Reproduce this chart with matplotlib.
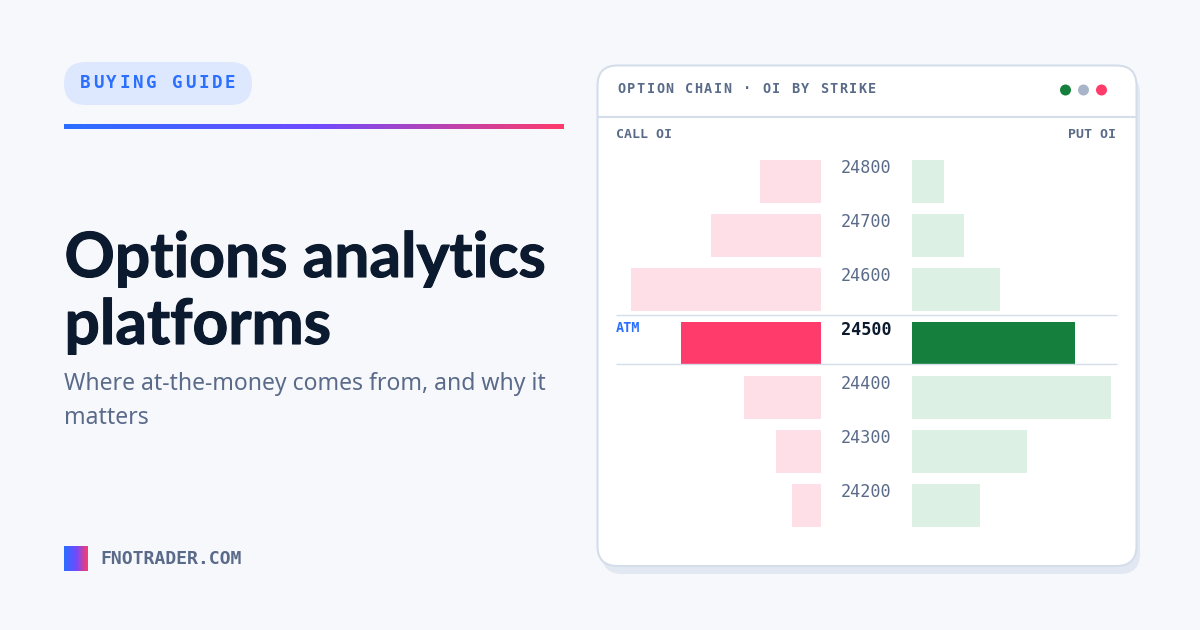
import numpy as np
import matplotlib
matplotlib.use('Agg')
import matplotlib.pyplot as plt
import matplotlib.patheffects as pe
from matplotlib.colors import LinearSegmentedColormap
from matplotlib.lines import Line2D
from matplotlib.patches import FancyBboxPatch, Circle
from matplotlib.text import Text

strikes = [24800, 24700, 24600, 24500, 24400, 24300, 24200]
call_oi = [61, 110, 190, 140, 77, 45, 29]
put_oi = [32, 52, 88, 163, 199, 115, 68]
atm_strike = 24500

badge = 'BUYING GUIDE'
title_lines = ['Options analytics', 'platforms']
subtitle_lines = ['Where at-the-money comes from, and why it', 'matters']
card_title = 'OPTION CHAIN · OI BY STRIKE'
site = 'FNOTRADER.COM'

BG = '#f7f8fc'
BLUE = '#2a6fff'
PINK = '#ff3b6b'
GREEN = '#15803d'
PINK_LIGHT = '#ffdfe7'
GREEN_LIGHT = '#dcf0e4'
INK = '#0b1a2e'
SLATE = '#5a6b8a'
BORDER = '#d4deea'
MONO = 'DejaVu Sans Mono'

W, H = 1200, 630
fig = plt.figure(figsize=(W / 100, H / 100), dpi=100, facecolor=BG)

# whole canvas in pixels, y going down
bg = fig.add_axes([0, 0, 1, 1])
bg.set_xlim(0, W)
bg.set_ylim(H, 0)
bg.axis('off')


def px(size):
    return size * 0.72


class SpacedText(Text):
    # one text object, drawn glyph by glyph at a fixed advance (css letter-spacing)
    advance = 10

    def draw(self, renderer):
        full = self.get_text()
        x0 = self.get_position()[0]
        for i, ch in enumerate(full):
            self.set_text(ch)
            self.set_x(x0 + i * self.advance)
            super().draw(renderer)
        self.set_text(full)
        self.set_x(x0)


def spaced(x, y, s, advance, **kw):
    t = SpacedText(x, y, s, **kw)
    t.advance = advance
    bg.add_artist(t)
    return t


def round_box(x0, y0, x1, y1, r, **kw):
    p = FancyBboxPatch((x0, y0), x1 - x0, y1 - y0,
                       boxstyle='round,pad=0,rounding_size=%s' % r, **kw)
    bg.add_patch(p)
    return p


cmap = LinearSegmentedColormap.from_list('accent', [BLUE, '#6e4bff', PINK])
ramp = np.linspace(0, 1, 256).reshape(1, -1)
bg.imshow(ramp, cmap=cmap, extent=(64, 564, 129, 124), aspect='auto', zorder=2)
bg.imshow(ramp, cmap=cmap, extent=(64, 88, 571, 546), aspect='auto', zorder=2)
bg.set_xlim(0, W)
bg.set_ylim(H, 0)

# badge
round_box(64, 62, 252, 105, 21.5, fc='#dde8ff', ec='none')
spaced(80, 88, badge, 13.15, family=MONO, fontweight='bold', fontsize=px(17.5),
       color=BLUE, va='baseline', zorder=3)

# headline
for i, line in enumerate(title_lines):
    bg.text(64.5, 277 + 67 * i, line, family='Lato', fontweight='bold', fontsize=px(62.3),
            color=INK, va='baseline',
            path_effects=[pe.withStroke(linewidth=0.8, foreground=INK)])
for i, line in enumerate(subtitle_lines):
    bg.text(64, 390 + 34 * i, line, family='Noto Sans', fontsize=px(23),
            color=SLATE, va='baseline')

bg.text(100, 564, site, family=MONO, fontweight='bold', fontsize=px(18.2),
        color=SLATE, va='baseline')

# card
round_box(602, 74, 1140, 574, 20, fc='#e2e8f2', ec='none', zorder=1)
round_box(597.5, 65.5, 1136.5, 566, 20, fc='white', ec=BORDER, lw=1.5, zorder=1.5)
bg.plot([598, 1136], [117, 117], color=BORDER, lw=1.5, zorder=2, solid_capstyle='butt')
spaced(617.5, 93, card_title, 9.63, family=MONO, fontweight='bold', fontsize=px(13.5),
       color=SLATE, va='baseline', zorder=3)
for cx, col in zip([1065.5, 1083.5, 1101.5], [GREEN, '#a8b5c9', PINK]):
    bg.add_patch(Circle((cx, 90), 5.5, fc=col, ec='none', zorder=3))

bg.text(616, 138, 'CALL OI', family=MONO, fontweight='bold', fontsize=px(13.3),
        color=SLATE, va='baseline', zorder=3)
bg.text(1116, 138, 'PUT OI', family=MONO, fontweight='bold', fontsize=px(13.3),
        color=SLATE, va='baseline', ha='right', zorder=3)

# bar panels, 205 px wide each
top, bottom, pitch = 160, 527, 54
ylim = ((bottom - 181.5) / pitch, (top - 181.5) / pitch)
ax_call = fig.add_axes([616 / W, 1 - bottom / H, 205 / W, (bottom - top) / H], zorder=3)
ax_put = fig.add_axes([912 / W, 1 - bottom / H, 205 / W, (bottom - top) / H], zorder=3)
rows = np.arange(len(strikes))
is_atm = [s == atm_strike for s in strikes]
ax_call.barh(rows, call_oi, height=43 / pitch,
             color=[PINK if a else PINK_LIGHT for a in is_atm])
ax_put.barh(rows, put_oi, height=43 / pitch,
            color=[GREEN if a else GREEN_LIGHT for a in is_atm])
ax_call.set_xlim(205, 0)
ax_put.set_xlim(0, 205)
for ax in (ax_call, ax_put):
    ax.set_ylim(*ylim)
    ax.axis('off')
    ax.patch.set_alpha(0)

# strike labels
for i, s in enumerate(strikes):
    atm = s == atm_strike
    bg.text(866.5, 172.8 + pitch * i, str(s), family=MONO, ha='center', va='baseline',
            fontsize=px(16.7), fontweight='bold' if atm else 'normal',
            color=INK if atm else SLATE, zorder=3)

# ATM row rules, over the bars
for y in (315, 364):
    fig.add_artist(Line2D([616, 1117], [y, y], transform=bg.transData, color=BORDER,
                          lw=1, zorder=4, solid_capstyle='butt'))
bg.text(616, 332, 'ATM', family=MONO, fontweight='bold', fontsize=px(13.5),
        color=BLUE, va='baseline', zorder=3)

fig.savefig('out.png', dpi=100, facecolor=BG)
